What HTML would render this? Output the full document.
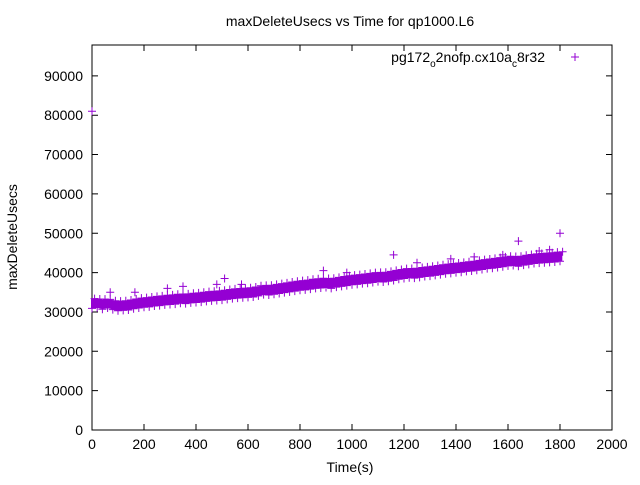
<!DOCTYPE html>
<html><head><meta charset="utf-8"><style>
body{margin:0;background:#fff;}
svg text{font-family:"Liberation Sans",sans-serif;fill:#000;}
</style></head><body>
<svg id="chart" width="640" height="480" viewBox="0 0 640 480" xmlns="http://www.w3.org/2000/svg">
<rect width="640" height="480" fill="#fff"/>
<text x="350" y="26" font-size="14" text-anchor="middle">maxDeleteUsecs vs Time for qp1000.L6</text>
<text x="350" y="472" font-size="14" text-anchor="middle">Time(s)</text>
<text transform="translate(17,237) rotate(-90)" font-size="14" text-anchor="middle">maxDeleteUsecs</text>
<g id="axes"></g>
<g id="marks"></g>
<g>
<text x="545" y="62" font-size="14" text-anchor="end">pg172<tspan font-size="10" dy="5">o</tspan><tspan dy="-5">2nofp.cx10a</tspan><tspan font-size="10" dy="5">c</tspan><tspan dy="-5">8r32</tspan></text>
<path d="M571,57h8M575,53v8" stroke="#9400d3" stroke-width="1"/>
</g>
</svg>
<script>
const xTicks=[0,200,400,600,800,1000,1200,1400,1600,1800,2000];
const yTicks=[0,10000,20000,30000,40000,50000,60000,70000,80000,90000];
const sampleTimes=[];for(let t=0;t<=1800;t+=20)sampleTimes.push(t);
const centerValues=[32100,32300,31900,32200,31800,31500,31600,31700,32000,32200,32400,32500,32700,32800,33000,33100,33200,33400,33300,33500,33600,33700,33900,34000,34100,34200,34400,34600,34700,34800,34900,35000,35300,35600,35500,35700,35900,36100,36300,36500,36700,36800,37000,37200,37300,37400,37200,37500,37700,37900,38100,38200,38400,38500,38700,38900,38800,39000,39200,39500,39700,39900,39800,40000,40200,40300,40500,40700,40900,41000,41200,41300,41500,41600,41800,42000,42200,42300,42500,42700,42900,43000,42800,43100,43300,43500,43600,43700,43800,43900,44100];
const bandLow=1200, bandHigh=1200;
const outlierTimes=[0,70,165,290,350,480,510,575,890,980,1160,1250,1380,1470,1580,1640,1720,1760,1800];
const outlierValues=[81000,35000,35000,36000,36500,37000,38500,37000,40500,40000,44500,42500,43500,44000,44500,48000,45500,45800,50000];
const X0=92,X1=612,Y0=430,YT=45;
const xs=t=>X0+t/2000*(X1-X0);
const ys=v=>Y0-v*0.003935;
const ns="http://www.w3.org/2000/svg";
const axes=document.getElementById('axes'),marks=document.getElementById('marks');
function mk(tag,attrs,parent){const e=document.createElementNS(ns,tag);for(const k in attrs)e.setAttribute(k,attrs[k]);parent.appendChild(e);return e;}
const frame=mk('rect',{x:X0,y:YT,width:X1-X0,height:Y0-YT,fill:'none',stroke:'#000','stroke-width':1},axes);


xTicks.forEach(t=>{const x=xs(t);
 const l=mk('path',{d:`M${x},${Y0}v-6M${x},${YT}v6`,stroke:'#000'},axes);
 
 
 const tx=mk('text',{x:x,y:Y0+19,'font-size':14,'text-anchor':'middle'},axes);tx.textContent=t;
 
 });
yTicks.forEach(v=>{const y=ys(v);
 const l=mk('path',{d:`M${X0},${y}h6M${X1},${y}h-6`,stroke:'#000'},axes);
 
 
 const tx=mk('text',{x:X0-9,y:y+5,'font-size':14,'text-anchor':'end'},axes);tx.textContent=v;
 
 });
function plus(t,v){const x=xs(t),y=ys(v);return `M${x-4},${y}h8M${x},${y-4}v8`;}
let d='',pl='';
sampleTimes.forEach((t,i)=>{const v=centerValues[i];const vn=centerValues[i+1]??v;
 for(let k=0;k<4;k++){const tt=t+k*5;if(tt>1805)break;const vv=v+(vn-v)*k/4;
  d+=`M${xs(tt)},${ys(vv-bandLow)}V${ys(vv+bandHigh)}`;}
 pl+=plus(t,v-bandLow)+plus(t+10,(v+vn)/2+bandHigh);});
const band=mk('path',{d:d,stroke:'#9400d3','stroke-width':2,fill:'none'},marks);


const pts=mk('path',{d:pl,stroke:'#9400d3','stroke-width':1,fill:'none'},marks);


outlierTimes.forEach((t,i)=>{const p=mk('path',{d:plus(t,outlierValues[i]),stroke:'#9400d3','stroke-width':1},marks);
 
 });
</script>
</body></html>
